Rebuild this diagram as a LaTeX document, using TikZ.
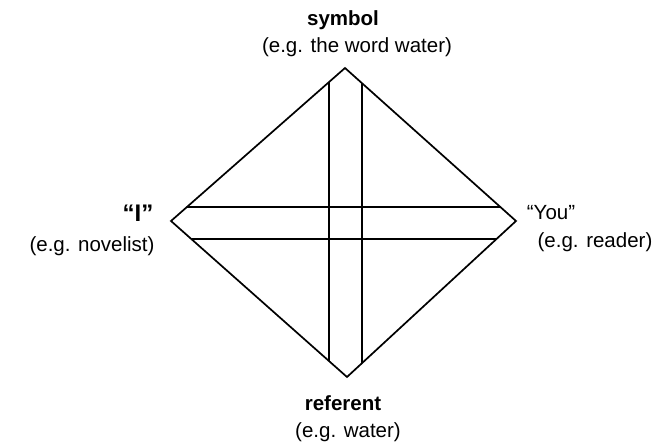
\documentclass[tikz,border=0pt]{standalone}
\usepackage{fontspec}
\setmainfont{Liberation Sans}
\begin{document}
\begin{tikzpicture}[x=1pt,y=-1pt,
  edge/.style={line width=1.7pt,line join=miter},
  lbl/.style={inner sep=0pt,font=\fontsize{20.5}{24}\selectfont},
  blbl/.style={lbl,font=\fontsize{20.5}{24}\selectfont\bfseries}]
\useasboundingbox (0,0) rectangle (665,446);
% diamond corners
\coordinate (T) at (345,68);
\coordinate (L) at (171,221);
\coordinate (R) at (516,221);
\coordinate (B) at (347,377);
\draw[edge] (T) -- (R) -- (B) -- (L) -- cycle;
% helper coordinates for the strips
\coordinate (v1a) at (329,0);   \coordinate (v1b) at (329,446);
\coordinate (v2a) at (362,0);   \coordinate (v2b) at (362,446);
\coordinate (h1a) at (0,207);   \coordinate (h1b) at (665,207);
\coordinate (h2a) at (0,239);   \coordinate (h2b) at (665,239);
\draw[edge] (intersection of v1a--v1b and L--T) -- (intersection of v1a--v1b and L--B);
\draw[edge] (intersection of v2a--v2b and R--T) -- (intersection of v2a--v2b and R--B);
\draw[edge] (intersection of h1a--h1b and L--T) -- (intersection of h1a--h1b and R--T);
\draw[edge] (intersection of h2a--h2b and L--B) -- (intersection of h2a--h2b and R--B);
% labels
\node[blbl] (sym) at (343,20) {symbol};
\node[lbl] (symeg) at (357,47) {(e.g. the word water)};
\node[blbl,font=\fontsize{24}{28}\selectfont\bfseries] (I) at (138,213) {``I''};
\node[lbl] (Ieg) at (92,246) {(e.g. novelist)};
\node[lbl] (you) at (551,213) {``You''};
\node[lbl] (youeg) at (595,242) {(e.g. reader)};
\node[blbl] (ref) at (343,403) {referent};
\node[lbl] (refeg) at (348,432) {(e.g. water)};
\end{tikzpicture}
\end{document}
